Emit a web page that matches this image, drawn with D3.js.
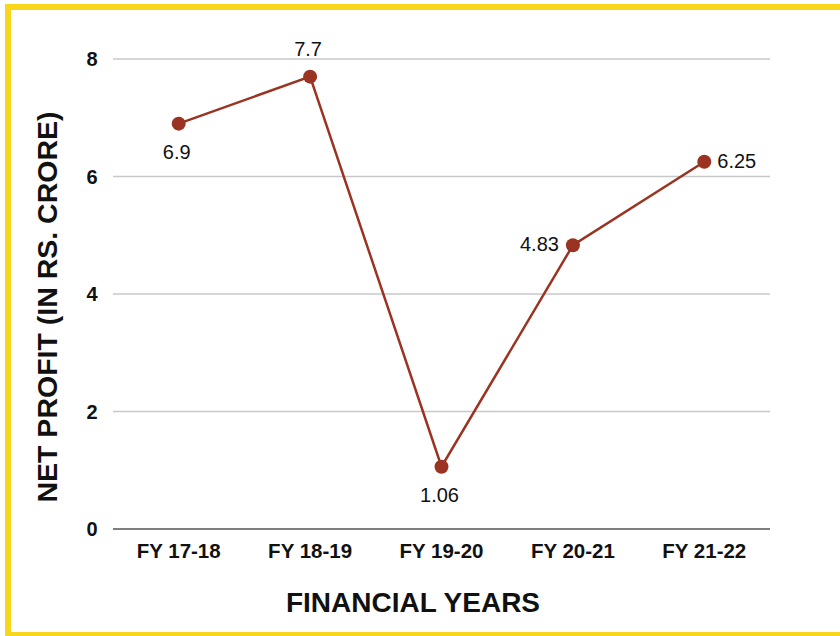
<!DOCTYPE html>
<html>
<head>
<meta charset="utf-8">
<script src="https://cdn.jsdelivr.net/npm/d3@7"></script>
<style>
    body { margin: 0; background: #fff; }
    svg { display: block; }
</style>
</head>
<body>
<div class="chart"></div>
<script>
var years = ["FY 17-18", "FY 18-19", "FY 19-20", "FY 20-21", "FY 21-22"];
var profit = [6.9, 7.7, 1.06, 4.83, 6.25];
var yTicks = [0, 2, 4, 6, 8];
// where each value label sits relative to its dot
var labelPos = ["below", "above", "below", "left", "right"];

var width = 840,
    height = 636;

var svg = d3.select(".chart").append("svg")
    .attr("width", width)
    .attr("height", height);

// yellow frame
svg.append("rect")
    .attr("x", 8)
    .attr("y", 7)
    .attr("width", 850)
    .attr("height", 628)
    .attr("fill", "none")
    .attr("stroke", "#f8d61c")
    .attr("stroke-width", 6);

var x = d3.scaleBand()
    .domain(years)
    .range([113, 770]);

var y = d3.scaleLinear()
    .domain([0, 8])
    .range([529, 59]);

var boldFont = "'Liberation Sans', Arial, Helvetica, sans-serif";

// gridlines
svg.selectAll("line.grid")
    .data(yTicks)
    .enter().append("line")
    .attr("class", "grid")
    .attr("x1", 113)
    .attr("x2", 770)
    .attr("y1", function (d) { return y(d); })
    .attr("y2", function (d) { return y(d); })
    .attr("stroke", function (d) { return d == 0 ? "#555" : "#c8c8c8"; })
    .attr("stroke-width", 1.5);

// y tick labels
svg.selectAll("text.ytick")
    .data(yTicks)
    .enter().append("text")
    .attr("class", "ytick")
    .attr("x", 92)
    .attr("y", function (d) { return y(d); })
    .attr("dy", "0.36em")
    .attr("text-anchor", "middle")
    .style("font-family", boldFont)
    .style("font-weight", "bold")
    .style("font-size", "20px")
    .attr("fill", "#111")
    .text(function (d) { return d; });

// x tick labels
svg.selectAll("text.xtick")
    .data(years)
    .enter().append("text")
    .attr("class", "xtick")
    .attr("x", function (d) { return x(d) + x.bandwidth() / 2; })
    .attr("y", 558)
    .attr("text-anchor", "middle")
    .style("font-family", boldFont)
    .style("font-weight", "bold")
    .style("font-size", "20.5px")
    .attr("fill", "#111")
    .text(function (d) { return d; });

// axis titles
svg.append("text")
    .attr("x", 413)
    .attr("y", 612)
    .attr("text-anchor", "middle")
    .style("font-family", boldFont)
    .style("font-weight", "bold")
    .style("font-size", "28px")
    .attr("fill", "#111")
    .text("FINANCIAL YEARS");

svg.append("text")
    .attr("transform", "translate(57,307) rotate(-90)")
    .attr("text-anchor", "middle")
    .style("font-family", boldFont)
    .style("font-weight", "bold")
    .style("font-size", "28.5px")
    .attr("fill", "#111")
    .text("NET PROFIT (IN RS. CRORE)");

var pts = years.map(function (d, i) {
    return {year: d, value: profit[i], pos: labelPos[i]};
});

var line = d3.line()
    .x(function (d) { return x(d.year) + x.bandwidth() / 2; })
    .y(function (d) { return y(d.value); });

svg.append("path")
    .datum(pts)
    .attr("d", line)
    .attr("fill", "none")
    .attr("stroke", "#9a3322")
    .attr("stroke-width", 2.5);

svg.selectAll("circle")
    .data(pts)
    .enter().append("circle")
    .attr("cx", function (d) { return x(d.year) + x.bandwidth() / 2; })
    .attr("cy", function (d) { return y(d.value); })
    .attr("r", 7)
    .attr("fill", "#9a3322");

svg.selectAll("text.val")
    .data(pts)
    .enter().append("text")
    .attr("class", "val")
    .attr("x", function (d) {
        var cx = x(d.year) + x.bandwidth() / 2;
        if (d.pos == "left") return cx - 14;
        if (d.pos == "right") return cx + 13;
        return cx - 2;
    })
    .attr("y", function (d) {
        var cy = y(d.value);
        if (d.pos == "below") return cy + 35;
        if (d.pos == "above") return cy - 21;
        return cy + 6;
    })
    .attr("text-anchor", function (d) {
        if (d.pos == "left") return "end";
        if (d.pos == "right") return "start";
        return "middle";
    })
    .style("font-family", "'Liberation Sans', Arial, Helvetica, sans-serif")
    .style("font-size", "20px")
    .attr("fill", "#111")
    .text(function (d) { return d.value; });
</script>
</body>
</html>
